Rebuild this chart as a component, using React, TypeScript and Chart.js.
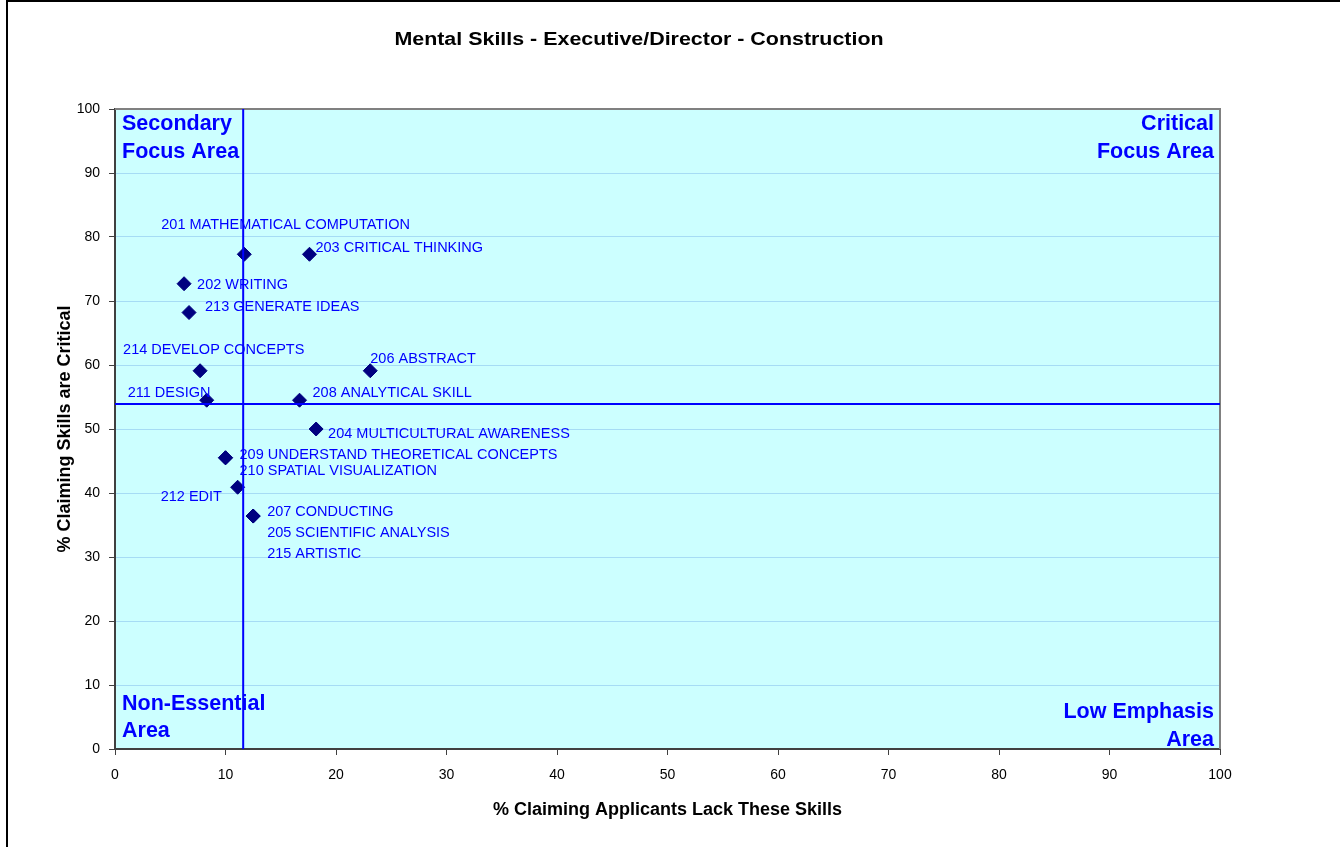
import React, { useEffect, useRef } from "react";
import { Chart, registerables } from "chart.js";

Chart.register(...registerables);

// ---------- data ----------
const chartTitle = "Mental Skills - Executive/Director - Construction";
const xAxisTitle = "% Claiming Applicants Lack These Skills";
const yAxisTitle = "% Claiming Skills are Critical";

const skillLabels = [
  "201 MATHEMATICAL COMPUTATION",
  "202 WRITING",
  "203 CRITICAL THINKING",
  "204 MULTICULTURAL AWARENESS",
  "205 SCIENTIFIC ANALYSIS",
  "206 ABSTRACT",
  "207 CONDUCTING",
  "208 ANALYTICAL SKILL",
  "209 UNDERSTAND THEORETICAL CONCEPTS",
  "210 SPATIAL VISUALIZATION",
  "211 DESIGN",
  "212 EDIT",
  "213 GENERATE IDEAS",
  "214 DEVELOP CONCEPTS",
  "215 ARTISTIC",
];
const lackPct = [11.7, 6.25, 17.6, 18.2, 12.5, 23.1, 12.5, 16.7, 10.0, 10.0, 8.3, 11.1, 6.7, 7.7, 12.5];
const criticalPct = [77.3, 72.7, 77.3, 50.0, 36.4, 59.1, 36.4, 54.5, 45.5, 45.5, 54.5, 40.9, 68.2, 59.1, 36.4];

const lackThreshold = 11.6;
const criticalThreshold = 53.9;

const axisMin = 0;
const axisMax = 100;
const tickStep = 10;

const quadrantTopLeft = ["Secondary", "Focus Area"];
const quadrantTopRight = ["Critical", "Focus Area"];
const quadrantBottomLeft = ["Non-Essential", "Area"];
const quadrantBottomRight = ["Low Emphasis", "Area"];

// label placement relative to each marker (pixels), same order as skillLabels
const labelOffsets: [number, number][] = [
  [-83, -29], [13, 1], [6, -6], [12, 5], [14, 17], [0, -12], [14, -4], [13, -7],
  [14, -3], [14, 13], [-79, -7], [-77, 10], [16, -6], [-77, -21], [14, 38],
];

const FONT = "'Liberation Sans', Arial, Helvetica, sans-serif";
const BLUE = "#0000FF";

const decorPlugin = {
  id: "decor",
  beforeDraw(chart: any) {
    const { ctx, chartArea: a, width, height } = chart;
    ctx.save();
    ctx.fillStyle = "#ffffff";
    ctx.fillRect(0, 0, width, height);
    ctx.fillStyle = "#000000";
    ctx.fillRect(6, 0, 2, height);
    ctx.fillRect(6, 0, width - 6, 2);
    ctx.fillStyle = "#CCFFFF";
    ctx.fillRect(a.left, a.top, a.right - a.left, a.bottom - a.top);
    ctx.restore();
  },
  beforeDatasetsDraw(chart: any) {
    const { ctx, chartArea: a } = chart;
    ctx.save();
    ctx.strokeStyle = "#808080";
    ctx.lineWidth = 2;
    ctx.beginPath();
    ctx.moveTo(a.left, a.top);
    ctx.lineTo(a.right, a.top);
    ctx.lineTo(a.right, a.bottom);
    ctx.stroke();
    ctx.restore();
  },
  afterDatasetsDraw(chart: any) {
    const { ctx, chartArea: a } = chart;
    ctx.save();
    // point labels
    const meta = chart.getDatasetMeta(2);
    ctx.font = `14.5px ${FONT}`;
    ctx.fillStyle = BLUE;
    ctx.textAlign = "left";
    ctx.textBaseline = "middle";
    meta.data.forEach((pt: any, i: number) => {
      const [dx, dy] = labelOffsets[i];
      ctx.fillText(skillLabels[i], pt.x + dx, pt.y + dy);
    });
    // quadrant labels
    ctx.font = `bold 21.5px ${FONT}`;
    ctx.fillStyle = BLUE;
    ctx.textAlign = "left";
    ctx.fillText(quadrantTopLeft[0], a.left + 7, a.top + 15);
    ctx.fillText(quadrantTopLeft[1], a.left + 7, a.top + 43);
    ctx.fillText(quadrantBottomLeft[0], a.left + 7, a.bottom - 45);
    ctx.fillText(quadrantBottomLeft[1], a.left + 7, a.bottom - 18);
    ctx.textAlign = "right";
    ctx.fillText(quadrantTopRight[0], a.right - 6, a.top + 15);
    ctx.fillText(quadrantTopRight[1], a.right - 6, a.top + 43);
    ctx.fillText(quadrantBottomRight[0], a.right - 6, a.bottom - 37);
    ctx.fillText(quadrantBottomRight[1], a.right - 6, a.bottom - 9);
    ctx.restore();
  },
  afterDraw(chart: any) {
    const { ctx } = chart;
    ctx.save();
    ctx.font = `bold 18px ${FONT}`;
    ctx.fillStyle = "#000000";
    ctx.textAlign = "center";
    ctx.textBaseline = "middle";
    ctx.translate(639, 40);
    ctx.scale(1.19, 1);
    ctx.fillText(chartTitle, 0, 0);
    ctx.restore();
  },
};

export default function App() {
  const ref = useRef<HTMLCanvasElement>(null);

  useEffect(() => {
    const canvas = ref.current;
    if (!canvas) return;
    const points = lackPct.map((x, i) => ({ x, y: criticalPct[i] }));
    const chart = new Chart(canvas, {
      type: "scatter",
      data: {
        datasets: [
          {
            type: "line",
            label: "Average lack",
            data: [
              { x: lackThreshold, y: axisMin },
              { x: lackThreshold, y: axisMax },
            ],
            borderColor: BLUE,
            borderWidth: 2,
            pointRadius: 0,
            showLine: true,
            fill: false,
            order: 0,
          },
          {
            type: "line",
            label: "Average critical",
            data: [
              { x: axisMin, y: criticalThreshold },
              { x: axisMax, y: criticalThreshold },
            ],
            borderColor: BLUE,
            borderWidth: 2,
            pointRadius: 0,
            showLine: true,
            fill: false,
            order: 0,
          },
          {
            label: "Skills",
            data: points,
            pointStyle: "rectRot",
            pointRadius: 7,
            pointHoverRadius: 7,
            backgroundColor: "#000080",
            borderColor: "#000080",
            borderWidth: 1,
            order: 1,
          },
        ],
      } as any,
      options: {
        responsive: false,
        animation: false,
        devicePixelRatio: 1,
        layout: { padding: { left: 0, top: 109, right: 120, bottom: 0 } },
        plugins: {
          legend: { display: false },
          title: { display: false },
          tooltip: { enabled: false },
        },
        font: { family: FONT },
        scales: {
          x: {
            type: "linear",
            min: axisMin,
            max: axisMax,
            afterFit: (s: any) => {
              s.height = 98;
            },
            ticks: {
              stepSize: tickStep,
              color: "#000000",
              font: { family: FONT, size: 14 },
              padding: 12,
            },
            grid: {
              drawOnChartArea: false,
              drawTicks: true,
              tickLength: 6,
              tickColor: "#404040",
              tickWidth: 1,
            },
            border: { color: "#404040", width: 2 },
            title: {
              display: true,
              text: xAxisTitle,
              color: "#000000",
              font: { family: FONT, size: 18, weight: "bold" },
              padding: { top: 0, bottom: 26 },
            },
          },
          y: {
            type: "linear",
            min: axisMin,
            max: axisMax,
            afterFit: (s: any) => {
              s.width = 115;
            },
            ticks: {
              stepSize: tickStep,
              color: "#000000",
              font: { family: FONT, size: 14 },
              padding: 9,
            },
            grid: {
              color: "#A6DCF5",
              lineWidth: 1,
              drawTicks: true,
              tickLength: 6,
              tickColor: "#404040",
              tickWidth: 1,
            },
            border: { color: "#404040", width: 2 },
            title: {
              display: true,
              text: yAxisTitle,
              color: "#000000",
              font: { family: FONT, size: 18, weight: "bold" },
              padding: { top: 54, bottom: 0 },
            },
          },
        },
      } as any,
      plugins: [decorPlugin],
    });
    return () => chart.destroy();
  }, []);

  return (
    <div style={{ position: "absolute", left: 0, top: 0, width: 1340, height: 847 }}>
      <canvas ref={ref} width={1340} height={847} style={{ display: "block" }} />
    </div>
  );
}
